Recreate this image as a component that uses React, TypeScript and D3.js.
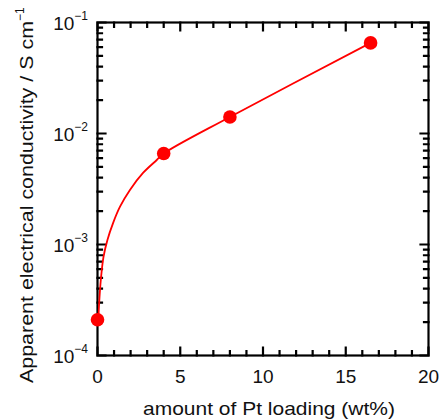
import React from 'react';
import * as d3 from 'd3';

const loading = [0, 4, 8, 16.5];
const conductivity = [2.1e-4, 6.6e-3, 1.41e-2, 6.55e-2];
const fitLoading = [0.05, 0.1, 0.2, 0.36, 0.6, 0.94, 1.36, 1.96, 2.75, 3.58, 4, 8, 16.5];
const fitConductivity = [2.09e-4, 2.97e-4, 4.79e-4, 7.71e-4, 1.1e-3, 1.56e-3, 2.19e-3, 3.1e-3, 4.41e-3, 5.77e-3, 6.6e-3, 1.41e-2, 6.55e-2];
const xTicks = [0, 5, 10, 15, 20];
const yExponents = [-4, -3, -2, -1];

const W = 440, H = 419;
const L = 97.5, R = 428.5, T = 22.5, B = 355.5;
const FONT = "'Liberation Sans', Arial, Helvetica, sans-serif";

export default function App() {
  const x = d3.scaleLinear().domain([0, 20]).range([L, R]);
  const y = d3.scaleLog().domain([1e-4, 1e-1]).range([B, T]);

  const xMinor = d3.range(0, 21).filter(v => v % 5 !== 0);
  const yMinor: number[] = [];
  for (let e = -4; e < -1; e++) for (let m = 2; m <= 9; m++) yMinor.push(m * Math.pow(10, e));

  const fitPts = fitLoading.map((v, i) => [x(v), y(fitConductivity[i])] as [number, number]);
  const line = d3.line().curve(d3.curveCatmullRom.alpha(0.5))(fitPts) || '';

  const major = 8, minor = 4.5;
  const p = d3.path();
  const vt = (px: number, len: number) => {
    p.moveTo(px, B); p.lineTo(px, B - len);
    p.moveTo(px, T); p.lineTo(px, T + len);
  };
  const ht = (py: number, len: number) => {
    p.moveTo(L, py); p.lineTo(L + len, py);
    p.moveTo(R, py); p.lineTo(R - len, py);
  };
  xTicks.forEach(v => vt(x(v), major));
  xMinor.forEach(v => vt(x(v), minor));
  yExponents.forEach(e => ht(y(Math.pow(10, e)), major));
  yMinor.forEach(v => ht(y(v), minor));
  const tickPath = p.toString();

  return (
    <svg width={W} height={H} style={{ position: 'absolute', left: 0, top: 0, background: '#fff' }} fontFamily={FONT}>
      <rect x={0} y={0} width={W} height={H} fill="#fff" />
      <path d={tickPath} fill="none" stroke="#000" strokeWidth={2.2} strokeLinecap="square" />
      <rect x={L} y={T} width={R - L} height={B - T} fill="none" stroke="#000" strokeWidth={2.2} />
      <path d={line} fill="none" stroke="#ff0000" strokeWidth={1.8} />
      {loading.map((v, i) => (
        <circle key={'p' + i} cx={x(v)} cy={y(conductivity[i])} r={6.8} fill="#ff0000" />
      ))}
      {xTicks.map(v => (
        <text key={'xl' + v} x={x(v)} y={383} fontSize={19} textAnchor="middle" fill="#111">{v}</text>
      ))}
      {yExponents.map(e => (
        <text key={'yl' + e} x={88} y={y(Math.pow(10, e)) + 7} fontSize={19} textAnchor="end" fill="#111">
          10<tspan fontSize={12} dy={-10}>{'\u2212' + Math.abs(e)}</tspan>
        </text>
      ))}
      <text x={143} y={415} fontSize={19} fill="#111" textLength={252} lengthAdjust="spacingAndGlyphs">amount of Pt loading (wt%)</text>
      <g transform="translate(33,383) rotate(-90)">
        <text x={0} y={0} fontSize={19} fill="#111">
          <tspan textLength={362} lengthAdjust="spacingAndGlyphs">Apparent electrical conductivity / S cm</tspan>
          <tspan fontSize={12} dy={-9}>{'\u22121'}</tspan>
        </text>
      </g>
    </svg>
  );
}
